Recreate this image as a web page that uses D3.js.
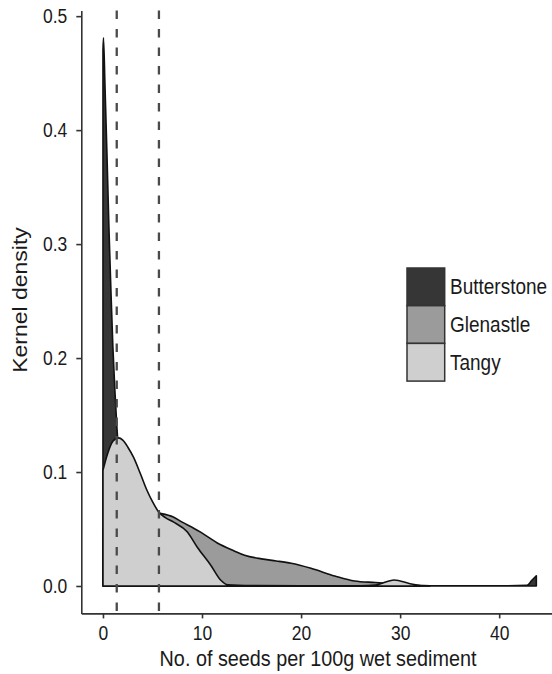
<!DOCTYPE html>
<html>
<head>
<meta charset="utf-8">
<script src="https://cdn.jsdelivr.net/npm/d3@7"></script>
<style>
  body { margin: 0; background: #fff; }
  text { font-family: "Liberation Sans", Arial, sans-serif; fill: #1a1a1a; }
</style>
</head>
<body>
<div id="plot"></div>
<script>
// density curves (x = seeds per 100g, d = kernel density)
var sites = ["Butterstone", "Glenastle", "Tangy"];
var fills = ["#363636", "#9b9b9b", "#cfcfcf"];

var butterstoneX = [0, 0.05, 0.2, 0.4, 0.6, 0.8, 1.0, 1.2, 1.4, 1.8, 2.2, 3, 4, 5, 7, 10, 15, 20, 30, 40, 42.8, 43.3, 43.75];
var butterstoneD = [0.47, 0.481, 0.44, 0.38, 0.315, 0.26, 0.21, 0.172, 0.14, 0.10, 0.07, 0.04, 0.02, 0.01, 0.004, 0.002, 0.001, 0.0005, 0.0002, 0.0002, 0.0005, 0.005, 0.009];

var glenastleX = [0, 1, 2, 3, 4, 5, 5.6, 7.1, 8, 9.2, 9.9, 11.5, 13.2, 14.3, 16, 17.5, 19, 21, 23.4, 25.4, 27.5, 29, 31, 33];
var glenastleD = [0.05, 0.06, 0.066, 0.068, 0.067, 0.065, 0.064, 0.0605, 0.056, 0.0505, 0.047, 0.038, 0.031, 0.027, 0.0238, 0.022, 0.0199, 0.0155, 0.0088, 0.0044, 0.003, 0.002, 0.0008, 0.0002];

var tangyX = [0, 0.5, 1.0, 1.56, 2.0, 2.5, 3.08, 3.8, 4.44, 5.0, 5.62, 6.3, 7.14, 8.5, 9.52, 10.9, 11.9, 12.6, 15, 20, 26, 27.5, 29.4, 31, 32];
var tangyD = [0.1016, 0.117, 0.127, 0.130, 0.128, 0.122, 0.113, 0.098, 0.084, 0.074, 0.065, 0.060, 0.056, 0.0475, 0.034, 0.018, 0.005, 0.001, 0.0003, 0.0001, 0.0002, 0.0008, 0.0053, 0.002, 0.0003];

var vlines = [1.39, 5.65];

var xTicks = [0, 10, 20, 30, 40];
var yTicks = [0, 0.1, 0.2, 0.3, 0.4, 0.5];

var xs = [butterstoneX, glenastleX, tangyX];
var ds = [butterstoneD, glenastleD, tangyD];

var width = 552, height = 674;
var panel = {left: 81.3, right: 558, top: 10.4, bottom: 613.4};
var stretch = "scale(1,1.15)";

var svg = d3.select("#plot").append("svg")
    .attr("width", width)
    .attr("height", height);

// ggplot style 5% expansion
var xMax = d3.max(xs, function(a) { return d3.max(a); });
var yMax = d3.max(ds, function(a) { return d3.max(a); });
var x = d3.scaleLinear().domain([-0.05 * xMax, xMax * 1.05]).range([panel.left, panel.right]);
var y = d3.scaleLinear().domain([-0.05 * yMax, yMax * 1.05]).range([panel.bottom, panel.top]);

var area = d3.area()
    .curve(d3.curveMonotoneX)
    .x(function(p) { return x(p[0]); })
    .y0(y(0))
    .y1(function(p) { return y(p[1]); });

sites.forEach(function(s, i) {
    var pts = xs[i].map(function(v, j) { return [v, ds[i][j]]; });
    svg.append("path")
        .attr("d", area(pts))
        .attr("fill", fills[i])
        .attr("stroke", "#111")
        .attr("stroke-width", 1.6)
        .attr("stroke-linejoin", "round");
});

// dashed reference lines
svg.selectAll(".vline")
    .data(vlines).enter()
    .append("line")
    .attr("x1", function(d) { return x(d); })
    .attr("x2", function(d) { return x(d); })
    .attr("y1", panel.top)
    .attr("y2", panel.bottom)
    .attr("stroke", "#4a4a4a")
    .attr("stroke-width", 2.3)
    .attr("stroke-dasharray", "8.5,10");

// axes
var gx = svg.append("g")
    .attr("transform", "translate(0," + panel.bottom + ")")
    .call(d3.axisBottom(x).tickValues(xTicks).tickSize(5).tickSizeOuter(0));
gx.selectAll("text")
    .attr("y", 0).attr("dy", null)
    .attr("transform", "translate(0,27) " + stretch)
    .style("font-size", "17.5px");

var gy = svg.append("g")
    .attr("transform", "translate(" + panel.left + ",0)")
    .call(d3.axisLeft(y).tickValues(yTicks).tickFormat(d3.format(".1f")).tickSize(5).tickPadding(9).tickSizeOuter(0));
gy.selectAll("text")
    .attr("transform", stretch)
    .style("font-size", "17.5px");

svg.selectAll(".domain").attr("stroke", "#333").attr("stroke-width", 1.6);
svg.selectAll(".tick line").attr("stroke", "#333").attr("stroke-width", 1.6);
svg.selectAll(".tick text").attr("fill", "#1a1a1a").attr("font-family", null);

// axis titles
svg.append("text")
    .attr("transform", "translate(318,666) " + stretch)
    .attr("text-anchor", "middle")
    .style("font-size", "19.8px")
    .text("No. of seeds per 100g wet sediment");

svg.append("text")
    .attr("transform", "translate(27,300) " + stretch + " rotate(-90)")
    .attr("text-anchor", "middle")
    .style("font-size", "20px")
    .text("Kernel density");

// legend
var legend = svg.append("g").attr("transform", "translate(407,268)");
var keySize = 37.7;
sites.forEach(function(s, i) {
    legend.append("rect")
        .attr("x", 0)
        .attr("y", i * keySize)
        .attr("width", keySize)
        .attr("height", keySize)
        .attr("fill", fills[i])
        .attr("stroke", "#333")
        .attr("stroke-width", 1.5);
    legend.append("text")
        .attr("transform", "translate(43," + (i * keySize + keySize / 2 + 7.5) + ") " + stretch)
        .style("font-size", "19px")
        .text(s);
});
</script>
</body>
</html>
